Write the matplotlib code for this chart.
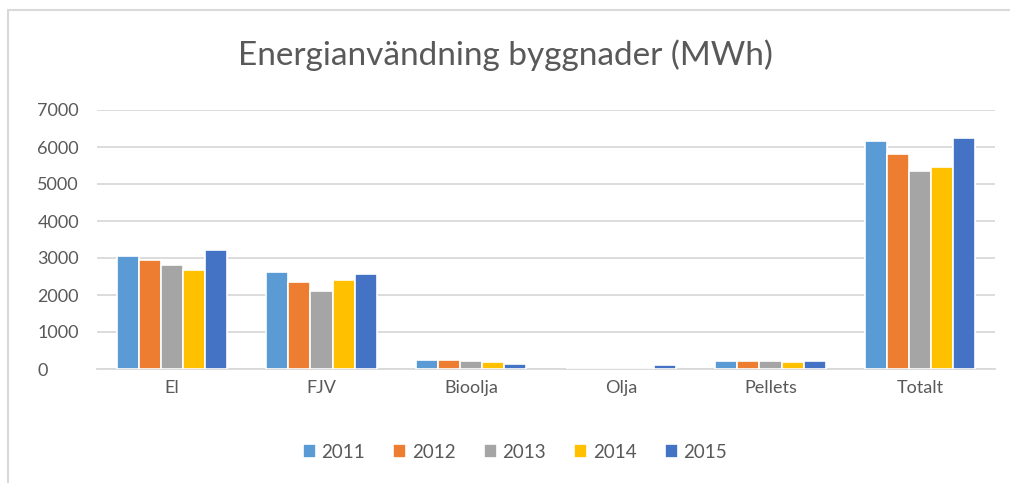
import matplotlib
matplotlib.use("Agg")
import matplotlib.pyplot as plt
import numpy as np
from matplotlib.patches import Rectangle

categories = ["El", "FJV", "Bioolja", "Olja", "Pellets", "Totalt"]
years = ["2011", "2012", "2013", "2014", "2015"]
v2011 = [3050, 2620, 245, 0, 225, 6160]
v2012 = [2950, 2360, 250, 0, 225, 5800]
v2013 = [2800, 2115, 225, 0, 225, 5360]
v2014 = [2675, 2405, 190, 0, 190, 5470]
v2015 = [3225, 2570, 135, 115, 210, 6230]
colors = ["#5B9BD5", "#ED7D31", "#A5A5A5", "#FFC000", "#4472C4"]
yticks = [0, 1000, 2000, 3000, 4000, 5000, 6000, 7000]

plt.rcParams['font.family'] = ['Lato', 'DejaVu Sans']

W, H = 1010, 483
fig = plt.figure(figsize=(W/100, H/100), dpi=100)
ax = fig.add_axes([97/W, 1-369/H, (995-97)/W, (369-110)/H])

series = [v2011, v2012, v2013, v2014, v2015]
x = np.arange(len(categories))
step = 0.147
for i, (vals, c, yr) in enumerate(zip(series, colors, years)):
    ax.bar(x + (i-2)*step, vals, width=step, color=c, edgecolor='white', linewidth=1.2, label=yr, zorder=3)

ax.set_xlim(-0.5, len(categories)-0.5)
ax.set_ylim(0, 7000)
ax.set_yticks(yticks)
ax.set_yticklabels([str(t) for t in yticks])
ax.set_xticks(x)
ax.set_xticklabels(categories)
ax.tick_params(axis='both', length=0, labelsize=13, colors='#595959')
ax.tick_params(axis='x', pad=8)
ax.grid(axis='y', color='#D9D9D9', linewidth=1.3, zorder=0)
for s in ['top', 'right', 'left']:
    ax.spines[s].set_visible(False)
ax.spines['bottom'].set_color('#D9D9D9')
ax.spines['bottom'].set_linewidth(1.3)
for lab in ax.get_yticklabels():
    lab.set_horizontalalignment('left')
ax.tick_params(axis='y', pad=43)

fig.text(0.5, 1-55/H, "Energianvändning byggnader (MWh)", ha='center', va='center',
         fontsize=24, color='#595959')

leg = fig.legend(loc='center', bbox_to_anchor=(515/W, 1-452/H), ncol=5, frameon=False,
                 fontsize=13.5, handlelength=0.7, handleheight=0.7, columnspacing=1.5,
                 handletextpad=0.3, labelcolor='#595959')

fig.patches.append(Rectangle((8/W, -0.1), 1.2, 1.1-10/H, transform=fig.transFigure,
                             fill=False, edgecolor='#D9D9D9', linewidth=1.5))

fig.savefig("out.png", dpi=100)
